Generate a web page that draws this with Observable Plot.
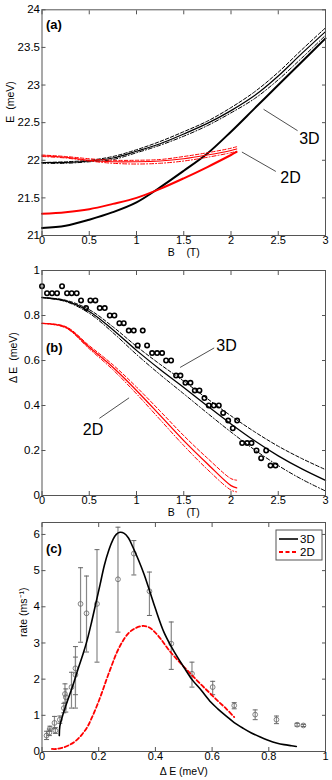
<!DOCTYPE html>
<html><head><meta charset="utf-8">
<script src="https://cdn.jsdelivr.net/npm/d3@7"></script>
<script src="https://cdn.jsdelivr.net/npm/@observablehq/plot@0.6"></script>
<style>
body{margin:0;background:#fff;}
#wrap{width:332px;}
#wrap svg{display:block;}
</style></head><body><div id="wrap"></div>
<script>
const FONT = "'Liberation Sans', Arial, Helvetica, sans-serif";
const fmt = d => String(d);

// ---------- Panel (a) : E vs B ----------
const aXTicks = [0, 0.5, 1, 1.5, 2, 2.5, 3];
const aYTicks = [21, 21.5, 22, 22.5, 23, 23.5, 24];
const aB3D = [0, 0.25, 0.5, 0.75, 1, 1.25, 1.5, 1.75, 2, 2.25, 2.5, 2.75, 3];
const aE3DLow = [21.10, 21.13, 21.21, 21.31, 21.44, 21.64, 21.86, 22.09, 22.38, 22.69, 23.00, 23.31, 23.62];
const aE3DUp = [21.97, 21.97, 21.99, 22.03, 22.12, 22.22, 22.35, 22.49, 22.66, 22.86, 23.12, 23.42, 23.71];
const aE3DUpHi = [21.97, 21.98, 22.00, 22.05, 22.14, 22.25, 22.38, 22.52, 22.70, 22.91, 23.17, 23.47, 23.76];
const aE3DUpLo = [21.96, 21.96, 21.98, 22.01, 22.10, 22.20, 22.32, 22.46, 22.63, 22.82, 23.07, 23.36, 23.66];
const aB2D = [0, 0.25, 0.5, 0.75, 1, 1.25, 1.5, 1.75, 2, 2.06];
const aE2DLow = [21.29, 21.31, 21.35, 21.42, 21.50, 21.62, 21.76, 21.91, 22.07, 22.11];
const aE2DUp = [22.06, 22.04, 22.00, 21.98, 21.98, 21.99, 22.02, 22.07, 22.13, 22.15];
const aE2DUpHi = [22.07, 22.05, 22.02, 22.00, 22.00, 22.01, 22.05, 22.10, 22.16, 22.18];
const aE2DUpLo = [22.05, 22.03, 21.99, 21.96, 21.95, 21.96, 21.99, 22.04, 22.10, 22.12];
const aPtr3DB = [2.348, 2.701], aPtr3DE = [22.675, 22.396];
const aPtr2DB = [2.119, 2.471], aPtr2DE = [22.107, 21.854];
const aTagText = ["3D", "2D"], aTagB = [2.83, 2.63], aTagE = [22.29, 21.76];

// ---------- Panel (b) : dE vs B ----------
const bXTicks = [0, 0.5, 1, 1.5, 2, 2.5, 3];
const bYTicks = [0, 0.2, 0.4, 0.6, 0.8, 1];
const bB3D = [0, 0.25, 0.5, 0.75, 1, 1.25, 1.5, 1.75, 2, 2.25, 2.5, 2.75, 3];
const bDE3D = [0.880, 0.865, 0.818, 0.737, 0.645, 0.560, 0.480, 0.398, 0.318, 0.243, 0.176, 0.118, 0.067];
const bDE3DHi = [0.880, 0.868, 0.826, 0.750, 0.663, 0.583, 0.508, 0.430, 0.354, 0.283, 0.219, 0.164, 0.115];
const bDE3DLo = [0.880, 0.862, 0.810, 0.724, 0.627, 0.537, 0.452, 0.366, 0.282, 0.203, 0.133, 0.072, 0.020];
const bB2D = [0, 0.25, 0.5, 0.75, 1, 1.25, 1.5, 1.75, 2, 2.06];
const bDE2D = [0.765, 0.748, 0.659, 0.570, 0.467, 0.356, 0.244, 0.141, 0.044, 0.034];
const bDE2DHi = [0.765, 0.751, 0.666, 0.581, 0.482, 0.375, 0.266, 0.166, 0.075, 0.068];
const bDE2DLo = [0.765, 0.745, 0.652, 0.559, 0.452, 0.337, 0.222, 0.116, 0.024, 0.016];
const bPtB = [0,0.053,0.106,0.159,0.212,0.265,0.314,0.367,0.413,0.466,0.512,0.565,0.611,0.664,0.717,0.766,0.819,0.865,0.918,0.971,1.013,1.066,1.112,1.165,1.218,1.271,1.313,1.366,1.419,1.465,1.518,1.571,1.617,1.666,1.719,1.765,1.818,1.871,1.917,1.970,2.019,2.065,2.118,2.171,2.217,2.270,2.319,2.372,2.418,2.471];
const bPtDE = [0.930,0.899,0.899,0.899,0.930,0.899,0.899,0.899,0.867,0.833,0.867,0.867,0.833,0.833,0.800,0.800,0.766,0.766,0.733,0.733,0.667,0.733,0.667,0.633,0.633,0.633,0.600,0.600,0.533,0.533,0.501,0.501,0.467,0.467,0.433,0.400,0.400,0.400,0.367,0.333,0.299,0.333,0.233,0.233,0.233,0.200,0.166,0.200,0.133,0.133];
const bPtr3DB = [1.465, 1.818], bPtr3DE = [0.570, 0.655];
const bPtr2DB = [0.918, 0.611], bPtr2DE = [0.433, 0.344];
const bTagText = ["3D", "2D"], bTagB = [1.952, 0.540], bTagE = [0.667, 0.293];

// ---------- Panel (c) : rate vs dE ----------
const cXTicks = [0, 0.2, 0.4, 0.6, 0.8, 1];
const cYTicks = [0, 1, 2, 3, 4, 5, 6];
const cDE3D = [0.061,0.063,0.075,0.090,0.110,0.128,0.145,0.160,0.175,0.190,0.205,0.220,0.235,0.250,0.262,0.275,0.290,0.305,0.320,0.340,0.360,0.380,0.400,0.430,0.456,0.480,0.503,0.530,0.561,0.596,0.620,0.650,0.678,0.710,0.737,0.770,0.795,0.830,0.854,0.880,0.897];
const cRate3D = [0.44,0.70,1.05,1.40,1.85,2.30,2.70,3.10,3.58,4.10,4.62,5.15,5.55,5.85,6.00,6.06,6.03,5.90,5.66,5.30,4.90,4.43,3.95,3.30,2.90,2.58,2.30,1.98,1.70,1.36,1.18,0.98,0.80,0.64,0.52,0.40,0.32,0.23,0.19,0.16,0.14];
const cDE2D = [0.035,0.050,0.070,0.094,0.120,0.140,0.160,0.175,0.193,0.211,0.228,0.246,0.263,0.281,0.304,0.327,0.357,0.380,0.398,0.420,0.444,0.470,0.503,0.530,0.561,0.590,0.620,0.650,0.678];
const cRate2D = [0.07,0.07,0.10,0.17,0.30,0.46,0.68,0.92,1.25,1.62,2.00,2.38,2.72,3.00,3.26,3.40,3.47,3.42,3.30,3.10,2.84,2.60,2.32,2.10,1.85,1.63,1.40,1.18,0.95];
const cPtDE = [0.016,0.026,0.028,0.044,0.047,0.063,0.077,0.081,0.084,0.104,0.118,0.118,0.136,0.157,0.194,0.268,0.324,0.379,0.456,0.529,0.602,0.678,0.752,0.827,0.900,0.922];
const cPtRate = [0.44,0.52,0.63,0.79,0.58,0.88,1.20,1.59,1.50,1.78,2.30,2.12,4.08,3.82,4.08,4.76,5.47,4.43,2.98,2.15,1.78,1.27,1.02,0.88,0.74,0.72];
const cPtLo = [0.33,0.44,0.56,0.63,0.50,0.78,1.07,1.36,1.09,1.20,1.57,1.20,3.02,2.75,2.47,3.30,4.88,3.76,2.27,1.78,1.57,1.18,0.88,0.77,0.70,0.69];
const cPtHi = [0.56,0.62,0.70,0.97,0.66,0.98,1.33,1.87,1.73,2.19,2.90,2.61,5.08,4.85,5.58,6.20,5.83,4.96,3.58,2.47,1.94,1.35,1.15,0.98,0.78,0.75];
const cLegendText = ["3D", "2D"];

// ---------- helpers ----------
const zip = (xs, ys) => xs.map((x, i) => ({x, y: ys[i]}));
const DASH = "3.5,2";
const DASHDOT = "4,2,1,2";
const capSymbol = {draw(ctx, size) { const w = Math.sqrt(size); ctx.moveTo(-w, 0); ctx.lineTo(w, 0); }};

function panel({height, marginTop, marginBottom, xDomain, yDomain, xTicks, yTicks,
                xLabel, yLabel, xLabelDy, yLabelDx, tag, tagDy, marks}) {
  return Plot.plot({
    width: 332, height, marginLeft: 41.5, marginRight: 7, marginTop, marginBottom,
    style: {fontFamily: FONT, fontSize: "11.5px", background: "#fff", color: "#000", overflow: "visible"},
    x: {domain: xDomain}, y: {domain: yDomain},
    marks: [
      ...marks,
      Plot.frame({stroke: "#555", strokeWidth: 1}),
      Plot.axisX({ticks: xTicks, anchor: "bottom", tickSize: -4, tickPadding: 5, tickFormat: fmt, label: null, stroke: "#555", fontSize: 11}),
      Plot.axisX({ticks: xTicks, anchor: "top", tickSize: -4, tickFormat: () => "", label: null, stroke: "#555"}),
      Plot.axisY({ticks: yTicks, anchor: "left", tickSize: -4, tickPadding: 6, tickFormat: fmt, label: null, stroke: "#555", fontSize: 11.5}),
      Plot.axisY({ticks: yTicks, anchor: "right", tickSize: -4, tickFormat: () => "", label: null, stroke: "#555"}),
      Plot.text([xLabel], {text: d => d, frameAnchor: "bottom", dy: xLabelDy, lineAnchor: "top", fontSize: 10.5}),
      Plot.text([yLabel], {text: d => d, frameAnchor: "left", dx: yLabelDx, rotate: -90, fontSize: 10.5}),
      Plot.text([tag], {text: d => d, frameAnchor: "top-left", dx: 4, dy: tagDy, lineAnchor: "top", textAnchor: "start", fontSize: 13, fontWeight: "bold"})
    ]
  });
}

const wrap = document.getElementById("wrap");

// Panel (a)
wrap.appendChild(panel({
  height: 258, marginTop: 9.3, marginBottom: 23,
  xDomain: [0, 3], yDomain: [21, 24], xTicks: aXTicks, yTicks: aYTicks,
  xLabel: "B\u00a0\u00a0\u00a0\u00a0(T)", yLabel: "E\u00a0\u00a0(meV)", xLabelDy: 13, yLabelDx: -31.5,
  tag: "(a)", tagDy: 10,
  marks: [
    Plot.line(zip(aB3D, aE3DLow), {x: "x", y: "y", stroke: "black", strokeWidth: 2, curve: "catmull-rom"}),
    Plot.line(zip(aB2D, aE2DLow), {x: "x", y: "y", stroke: "#ff0000", strokeWidth: 2, curve: "catmull-rom"}),
    Plot.line(zip(aB3D, aE3DUpHi), {x: "x", y: "y", stroke: "black", strokeWidth: 1, strokeDasharray: DASH, curve: "catmull-rom"}),
    Plot.line(zip(aB3D, aE3DUpLo), {x: "x", y: "y", stroke: "black", strokeWidth: 1, strokeDasharray: DASHDOT, curve: "catmull-rom"}),
    Plot.line(zip(aB3D, aE3DUp), {x: "x", y: "y", stroke: "black", strokeWidth: 1.2, curve: "catmull-rom"}),
    Plot.line(zip(aB2D, aE2DUpHi), {x: "x", y: "y", stroke: "#ff0000", strokeWidth: 1, strokeDasharray: DASH, curve: "catmull-rom"}),
    Plot.line(zip(aB2D, aE2DUpLo), {x: "x", y: "y", stroke: "#ff0000", strokeWidth: 1, strokeDasharray: DASHDOT, curve: "catmull-rom"}),
    Plot.line(zip(aB2D, aE2DUp), {x: "x", y: "y", stroke: "#ff0000", strokeWidth: 1.2, curve: "catmull-rom"}),
    Plot.line(zip(aPtr3DB, aPtr3DE), {x: "x", y: "y", stroke: "#222", strokeWidth: 0.8}),
    Plot.line(zip(aPtr2DB, aPtr2DE), {x: "x", y: "y", stroke: "#222", strokeWidth: 0.8}),
    Plot.text(aTagText, {x: (d, i) => aTagB[i], y: (d, i) => aTagE[i], text: d => d, fontSize: 16})
  ]
}));

// Panel (b)
wrap.appendChild(panel({
  height: 259, marginTop: 12, marginBottom: 22,
  xDomain: [0, 3], yDomain: [0, 1], xTicks: bXTicks, yTicks: bYTicks,
  xLabel: "B\u00a0\u00a0\u00a0\u00a0(T)", yLabel: "\u0394 E\u00a0\u00a0(meV)", xLabelDy: 13, yLabelDx: -28,
  tag: "(b)", tagDy: 72,
  marks: [
    Plot.line(zip(bB3D, bDE3DHi), {x: "x", y: "y", stroke: "black", strokeWidth: 1, strokeDasharray: DASH, curve: "catmull-rom"}),
    Plot.line(zip(bB3D, bDE3DLo), {x: "x", y: "y", stroke: "black", strokeWidth: 1, strokeDasharray: DASHDOT, curve: "catmull-rom"}),
    Plot.line(zip(bB3D, bDE3D), {x: "x", y: "y", stroke: "black", strokeWidth: 1.3, curve: "catmull-rom"}),
    Plot.line(zip(bB2D, bDE2DHi), {x: "x", y: "y", stroke: "#ff0000", strokeWidth: 1, strokeDasharray: DASH, curve: "catmull-rom"}),
    Plot.line(zip(bB2D, bDE2DLo), {x: "x", y: "y", stroke: "#ff0000", strokeWidth: 1, strokeDasharray: DASHDOT, curve: "catmull-rom"}),
    Plot.line(zip(bB2D, bDE2D), {x: "x", y: "y", stroke: "#ff0000", strokeWidth: 1.3, curve: "catmull-rom"}),
    Plot.dot(zip(bPtB, bPtDE), {x: "x", y: "y", r: 2.2, stroke: "black", strokeWidth: 1.6, fill: "none"}),
    Plot.line(zip(bPtr3DB, bPtr3DE), {x: "x", y: "y", stroke: "#222", strokeWidth: 0.8}),
    Plot.line(zip(bPtr2DB, bPtr2DE), {x: "x", y: "y", stroke: "#222", strokeWidth: 0.8}),
    Plot.text(bTagText, {x: (d, i) => bTagB[i], y: (d, i) => bTagE[i], text: d => d, fontSize: 16})
  ]
}));

// Panel (c)
const cPts = cPtDE.map((x, i) => ({x, y: cPtRate[i], lo: cPtLo[i], hi: cPtHi[i]}));
const svgC = panel({
  height: 263, marginTop: 5, marginBottom: 29,
  xDomain: [0, 1], yDomain: [0, 6.33], xTicks: cXTicks, yTicks: cYTicks,
  xLabel: "\u0394 E (meV)", yLabel: "rate (ms\u207B\u00B9)", xLabelDy: 16, yLabelDx: -18,
  tag: "(c)", tagDy: 21,
  marks: [
    Plot.ruleX(cPts, {x: "x", y1: "lo", y2: "hi", stroke: "#888", strokeWidth: 1.2}),
    Plot.dot(cPts, {x: "x", y: "lo", symbol: capSymbol, r: 1.4, stroke: "#666", strokeWidth: 1}),
    Plot.dot(cPts, {x: "x", y: "hi", symbol: capSymbol, r: 1.4, stroke: "#666", strokeWidth: 1}),
    Plot.dot(cPts, {x: "x", y: "y", r: 2.4, stroke: "#666", strokeWidth: 0.8, fill: "none"}),
    Plot.line(zip(cDE2D, cRate2D), {x: "x", y: "y", stroke: "#ff0000", strokeWidth: 1.8, strokeDasharray: "4,2.5", curve: "catmull-rom"}),
    Plot.line(zip(cDE3D, cRate3D), {x: "x", y: "y", stroke: "black", strokeWidth: 1.6, curve: "catmull-rom"})
  ]
});
wrap.appendChild(svgC);

// legend for panel (c), in the top-right corner of its frame
const lg = d3.select(svgC).append("g").attr("font-family", FONT).attr("font-size", 11.5).attr("text-anchor", "start");
const lgX = 332 - 7 - 49, lgY = 5 + 8;
lg.append("rect").attr("x", lgX).attr("y", lgY).attr("width", 46).attr("height", 30)
  .attr("fill", "#fff").attr("stroke", "#555").attr("stroke-width", 1);
const lgStyles = [{stroke: "black", dash: null, w: 1.6}, {stroke: "#ff0000", dash: "4,2.5", w: 1.8}];
cLegendText.forEach((t, i) => {
  const cy = lgY + 9 + i * 13;
  lg.append("line").attr("x1", lgX + 3).attr("x2", lgX + 22).attr("y1", cy).attr("y2", cy)
    .attr("stroke", lgStyles[i].stroke).attr("stroke-width", lgStyles[i].w)
    .attr("stroke-dasharray", lgStyles[i].dash);
  lg.append("text").attr("x", lgX + 24).attr("y", cy).attr("dy", "0.35em").attr("text-anchor", "start").text(t);
});
</script></body></html>
